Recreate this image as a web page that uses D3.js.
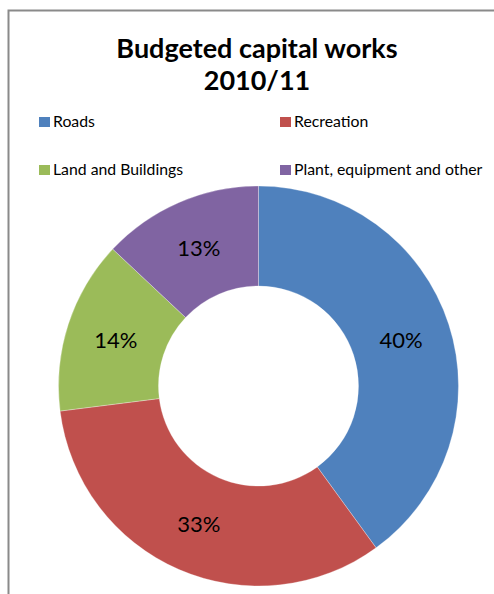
<!DOCTYPE html>
<html>
<head>
<meta charset="utf-8">
<script src="https://cdn.jsdelivr.net/npm/d3@7"></script>
<style>
  html, body { margin: 0; padding: 0; background: #fff; }
  svg { display: block; }
  text { font-family: Lato, "Open Sans", sans-serif; }
</style>
</head>
<body>
<svg id="chart" width="494" height="594"></svg>
<script>
// chart data
const titleLines = ["Budgeted capital works", "2010/11"];
const categories = ["Roads", "Recreation", "Land and Buildings", "Plant, equipment and other"];
const shares = [40, 33, 14, 13];
const colours = ["#4F81BD", "#C0504D", "#9BBB59", "#8064A2"];

const svg = d3.select("#chart");

// chart area border (runs off the right and bottom edges)
svg.append("rect")
  .attr("x", 8.5).attr("y", 10.5)
  .attr("width", 520).attr("height", 620)
  .attr("fill", "#fff")
  .attr("stroke", "#8a8a8a")
  .attr("stroke-width", 2);

// title
svg.append("g").selectAll("text")
  .data(titleLines)
  .join("text")
  .attr("x", 257)
  .attr("y", (d, i) => 58 + i * 32)
  .attr("text-anchor", "middle")
  .attr("font-size", 27)
  .attr("font-weight", "bold")
  .attr("fill", "#000")
  .text(d => d);

// legend, two columns
const legendX = d3.scalePoint().domain([0, 1]).range([39, 280]);
const legendY = d3.scalePoint().domain([0, 1]).range([117, 165]);
const legend = svg.append("g").selectAll("g")
  .data(categories)
  .join("g")
  .attr("transform", (d, i) => `translate(${legendX(i % 2)},${legendY(Math.floor(i / 2))})`);
legend.append("rect")
  .attr("width", 11).attr("height", 10)
  .attr("fill", (d, i) => colours[i]);
legend.append("text")
  .attr("x", 14).attr("y", 10)
  .attr("font-size", 15.8)
  .attr("fill", "#000")
  .text(d => d);

// donut
const cx = 258.5, cy = 386, outerR = 200, innerR = 100;
const pie = d3.pie().sort(null).value(d => d);
const arc = d3.arc().innerRadius(innerR).outerRadius(outerR);
const color = d3.scaleOrdinal().domain(categories).range(colours);

const slices = svg.append("g")
  .attr("transform", `translate(${cx},${cy})`)
  .selectAll("g")
  .data(pie(shares))
  .join("g");

slices.append("path")
  .attr("d", arc)
  .attr("fill", (d, i) => color(categories[i]))
  .attr("stroke", "#fff")
  .attr("stroke-width", 0.3);

slices.append("text")
  .attr("transform", d => `translate(${arc.centroid(d)})`)
  .attr("text-anchor", "middle")
  .attr("dy", "0.36em")
  .attr("font-size", 22)
  .attr("fill", "#000")
  .text(d => d.data + "%");
</script>
</body>
</html>
